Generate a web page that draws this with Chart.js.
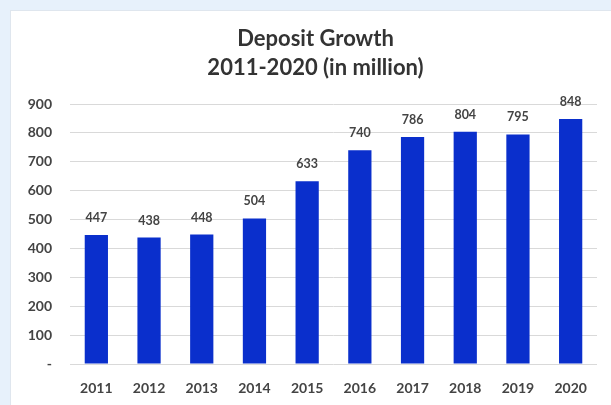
<!DOCTYPE html>
<html>
<head>
<meta charset="utf-8">
<script src="https://cdn.jsdelivr.net/npm/chart.js@4"></script>
<style>
  html, body { margin: 0; padding: 0; }
  body { width: 611px; height: 405px; background: #e7f1fb; position: relative; overflow: hidden; }
  #panel { position: absolute; left: 10px; top: 10px; width: 620px; height: 420px; background: #ffffff; border: 1px solid #dfe6ee; }
  #wrap { position: absolute; left: 0; top: 0; width: 611px; height: 405px; }
</style>
</head>
<body>
<div id="panel"></div>
<div id="wrap"><canvas id="c" width="611" height="405"></canvas></div>
<script>
const years = ['2011', '2012', '2013', '2014', '2015', '2016', '2017', '2018', '2019', '2020'];
const deposits = [447, 438, 448, 504, 633, 740, 786, 804, 795, 848];
const titleLines = ['Deposit Growth', '2011-2020 (in million)'];
const yTicks = [0, 100, 200, 300, 400, 500, 600, 700, 800, 900];

const FONT = 'Lato, "Open Sans", sans-serif';
const TEXT = '#444444';

// value labels above each bar
const barValueLabels = {
  id: 'barValueLabels',
  afterDatasetsDraw(chart) {
    const ctx = chart.ctx;
    const meta = chart.getDatasetMeta(0);
    ctx.save();
    ctx.font = 'bold 12.5px ' + FONT;
    ctx.fillStyle = TEXT;
    ctx.textAlign = 'center';
    ctx.textBaseline = 'middle';
    meta.data.forEach((bar, i) => {
      ctx.fillText(String(deposits[i]), bar.x, bar.y - 17);
    });
    ctx.restore();
  }
};

// centre the title over the white panel rather than the plot box
const titleShift = {
  id: 'titleShift',
  afterLayout(chart) {
    const t = chart.titleBlock;
    if (t) { t.left += 17; t.right += 17; }
  }
};

new Chart(document.getElementById('c'), {
  type: 'bar',
  data: {
    labels: years,
    datasets: [{
      data: deposits,
      backgroundColor: '#0a2fcc',
      borderWidth: 0,
      barPercentage: 0.9,
      categoryPercentage: 0.49
    }]
  },
  options: {
    responsive: false,
    animation: false,
    layout: { padding: { left: 0, right: 14, top: 0, bottom: 0 } },
    plugins: {
      legend: { display: false },
      tooltip: { enabled: false },
      title: {
        display: true,
        text: titleLines,
        color: '#333333',
        font: { family: FONT, size: 22, weight: 'bold', lineHeight: 1.32 },
        padding: { top: 24, bottom: 22 }
      }
    },
    scales: {
      x: {
        grid: { display: false, drawTicks: false },
        border: { display: false },
        ticks: { color: TEXT, font: { family: FONT, size: 14, weight: 'bold' }, padding: 16 },
        afterFit(scale) { scale.height = 41; }
      },
      y: {
        min: 0,
        max: 900,
        afterBuildTicks(scale) { scale.ticks = yTicks.map(v => ({ value: v })); },
        grid: { color: '#d9d9d9', drawTicks: false, lineWidth: 1 },
        border: { display: false },
        ticks: {
          color: TEXT,
          font: { family: FONT, size: 14, weight: 'bold' },
          padding: 18,
          callback: v => (v === 0 ? '-' : String(v))
        },
        afterFit(scale) { scale.width = 70; }
      }
    }
  },
  plugins: [barValueLabels, titleShift]
});
</script>
</body>
</html>
